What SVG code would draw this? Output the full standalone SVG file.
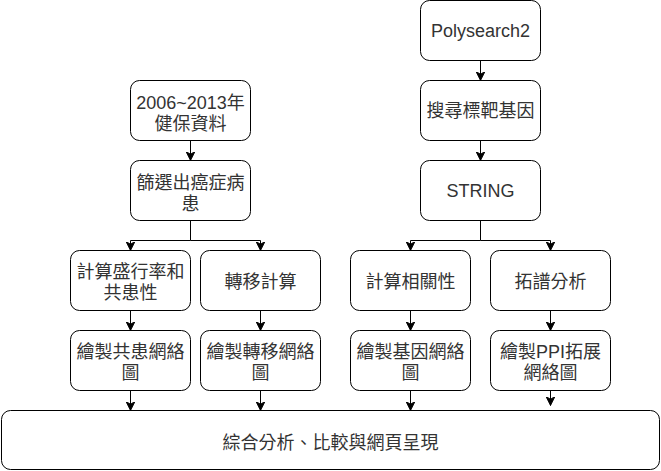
<svg xmlns="http://www.w3.org/2000/svg" width="661" height="471" viewBox="0 0 661 471">
<style>
  .box { fill: #ffffff; stroke: #000000; stroke-width: 1; }
  .lbl { font-family: "Liberation Sans", "Noto Sans CJK TC", "Noto Sans CJK SC", sans-serif; font-size: 18px; fill: #333333; text-anchor: middle; }
  .edge { fill: none; stroke: #000000; stroke-width: 1; }
</style>
<defs>
  <marker id="arr" viewBox="0 0 10 10" refX="10" refY="5" markerWidth="9" markerHeight="9" markerUnits="userSpaceOnUse" orient="auto">
    <path d="M0,0 L10,5 L0,10 L3,5 Z" fill="#000000" stroke="#000000" stroke-width="1"/>
  </marker>
</defs>
<rect width="661" height="471" fill="#ffffff"/>

<g id="connectors">
  <path class="edge" d="M480.5,60.5 V80.5" marker-end="url(#arr)"/>
  <path class="edge" d="M480.5,140.5 V160.5" marker-end="url(#arr)"/>
  <path class="edge" d="M190.5,140.5 V160.5" marker-end="url(#arr)"/>
  <path class="edge" d="M190.5,220.5 V240.5 H130.5 V250.5" marker-end="url(#arr)"/>
  <path class="edge" d="M190.5,240.5 H260.5 V250.5" marker-end="url(#arr)"/>
  <path class="edge" d="M480.5,220.5 V240.5 H410.5 V250.5" marker-end="url(#arr)"/>
  <path class="edge" d="M480.5,240.5 H550.5 V250.5" marker-end="url(#arr)"/>
  <path class="edge" d="M130.5,310.5 V330.5" marker-end="url(#arr)"/>
  <path class="edge" d="M260.5,310.5 V330.5" marker-end="url(#arr)"/>
  <path class="edge" d="M410.5,310.5 V330.5" marker-end="url(#arr)"/>
  <path class="edge" d="M550.5,310.5 V330.5" marker-end="url(#arr)"/>
  <path class="edge" d="M130.5,390.5 V410.5" marker-end="url(#arr)"/>
  <path class="edge" d="M260.5,390.5 V410.5" marker-end="url(#arr)"/>
  <path class="edge" d="M410.5,390.5 V410.5" marker-end="url(#arr)"/>
  <path class="edge" d="M550.5,390.5 V405.5" marker-end="url(#arr)"/>
</g>

<g id="n-polysearch">
  <rect class="box" x="420.5" y="0.5" width="120" height="60" rx="9"/>
  <text class="lbl" x="480.5" y="37">Polysearch2</text>
</g>
<g id="n-search">
  <rect class="box" x="420.5" y="80.5" width="120" height="60" rx="9"/>
  <text class="lbl" x="480.5" y="117">搜尋標靶基因</text>
</g>
<g id="n-string">
  <rect class="box" x="420.5" y="160.5" width="120" height="60" rx="9"/>
  <text class="lbl" x="480.5" y="197">STRING</text>
</g>
<g id="n-data">
  <rect class="box" x="130.5" y="80.5" width="120" height="60" rx="9"/>
  <text class="lbl" x="190.5" y="109">2006~2013年</text>
  <text class="lbl" x="190.5" y="130">健保資料</text>
</g>
<g id="n-filter">
  <rect class="box" x="130.5" y="160.5" width="120" height="60" rx="9"/>
  <text class="lbl" x="190.5" y="189">篩選出癌症病</text>
  <text class="lbl" x="190.5" y="210">患</text>
</g>
<g id="n-prevalence">
  <rect class="box" x="70.5" y="250.5" width="120" height="60" rx="9"/>
  <text class="lbl" x="130.5" y="278">計算盛行率和</text>
  <text class="lbl" x="130.5" y="299">共患性</text>
</g>
<g id="n-transfer">
  <rect class="box" x="200.5" y="250.5" width="120" height="60" rx="9"/>
  <text class="lbl" x="260.5" y="288">轉移計算</text>
</g>
<g id="n-correlation">
  <rect class="box" x="350.5" y="250.5" width="120" height="60" rx="9"/>
  <text class="lbl" x="410.5" y="288">計算相關性</text>
</g>
<g id="n-topology">
  <rect class="box" x="490.5" y="250.5" width="120" height="60" rx="9"/>
  <text class="lbl" x="550.5" y="288">拓譜分析</text>
</g>
<g id="n-comorbid-net">
  <rect class="box" x="70.5" y="330.5" width="120" height="60" rx="9"/>
  <text class="lbl" x="130.5" y="358">繪製共患網絡</text>
  <text class="lbl" x="130.5" y="379">圖</text>
</g>
<g id="n-transfer-net">
  <rect class="box" x="200.5" y="330.5" width="120" height="60" rx="9"/>
  <text class="lbl" x="260.5" y="358">繪製轉移網絡</text>
  <text class="lbl" x="260.5" y="379">圖</text>
</g>
<g id="n-gene-net">
  <rect class="box" x="350.5" y="330.5" width="120" height="60" rx="9"/>
  <text class="lbl" x="410.5" y="358">繪製基因網絡</text>
  <text class="lbl" x="410.5" y="379">圖</text>
</g>
<g id="n-ppi-net">
  <rect class="box" x="490.5" y="330.5" width="120" height="60" rx="9"/>
  <text class="lbl" x="550.5" y="358">繪製PPI拓展</text>
  <text class="lbl" x="550.5" y="379">網絡圖</text>
</g>
<g id="n-summary">
  <rect class="box" x="1.5" y="410.5" width="658" height="59" rx="9"/>
  <text class="lbl" x="330.5" y="449">綜合分析、比較與網頁呈現</text>
</g>
</svg>
